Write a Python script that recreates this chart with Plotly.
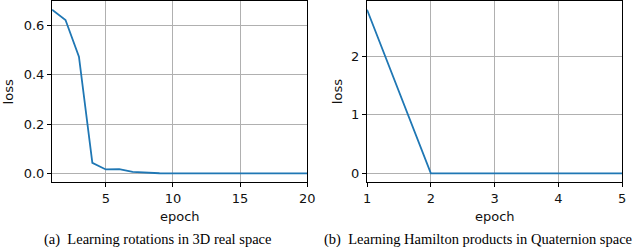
import plotly.graph_objects as go

# Data
epochs_a = list(range(1, 21))
loss_a = [0.665, 0.623, 0.474, 0.043, 0.016, 0.017, 0.006, 0.002, 0.0005, 0.0,
          0.0, 0.0, 0.0, 0.0, 0.0, 0.0, 0.0, 0.0, 0.0, 0.0]
epochs_b = [1, 2, 3, 4, 5]
loss_b = [2.79, 0.0, 0.0, 0.0, 0.0]

ticks_xa = [5, 10, 15, 20]
ticks_ya = [0.0, 0.2, 0.4, 0.6]
ticks_xb = [1, 2, 3, 4, 5]
ticks_yb = [0, 1, 2]

caption_a = "(a)  Learning rotations in 3D real space"
caption_b = "(b)  Learning Hamilton products in Quaternion space"

W, H = 640, 247
line_color = "#1f77b4"
tick_font = dict(family="DejaVu Sans", size=13, color="#111")

fig = go.Figure()
fig.add_trace(go.Scatter(x=epochs_a, y=loss_a, mode="lines",
                         line=dict(color=line_color, width=1.8),
                         xaxis="x", yaxis="y", showlegend=False))
fig.add_trace(go.Scatter(x=epochs_b, y=loss_b, mode="lines",
                         line=dict(color=line_color, width=1.8),
                         xaxis="x2", yaxis="y2", showlegend=False))

ydom = [1 - 182 / H, 1 - 1 / H]
common = dict(showline=True, mirror=True, linecolor="black", linewidth=1.2,
              ticks="outside", ticklen=4, tickwidth=1, tickcolor="black",
              showgrid=True, gridcolor="#b0b0b0", gridwidth=1,
              zeroline=False, tickfont=tick_font)

fig.update_layout(
    width=W, height=H, margin=dict(l=0, r=0, t=0, b=0),
    paper_bgcolor="white", plot_bgcolor="white",
    xaxis=dict(domain=[49 / W, 309 / W], range=[1, 20], tickvals=ticks_xa,
               anchor="y", **common),
    yaxis=dict(domain=ydom, range=[-0.035, 0.70], tickvals=ticks_ya,
               tickformat=".1f", anchor="x", **common),
    xaxis2=dict(domain=[370 / W, 630 / W], range=[1, 5], tickvals=ticks_xb,
                anchor="y2", **common),
    yaxis2=dict(domain=ydom, range=[-0.147, 2.94], tickvals=ticks_yb,
                anchor="x2", **common),
)

ann = []
ann.append(dict(text="loss", x=5 / W, y=1 - 91.5 / H, xref="paper", yref="paper",
                textangle=-90, showarrow=False, font=tick_font,
                xanchor="center", yanchor="middle"))
ann.append(dict(text="loss", x=340 / W, y=1 - 91.5 / H, xref="paper", yref="paper",
                textangle=-90, showarrow=False, font=tick_font,
                xanchor="center", yanchor="middle"))
ann.append(dict(text="epoch", x=179 / W, y=1 - 216 / H, xref="paper", yref="paper",
                showarrow=False, font=tick_font, xanchor="center", yanchor="middle"))
ann.append(dict(text="epoch", x=500 / W, y=1 - 216 / H, xref="paper", yref="paper",
                showarrow=False, font=tick_font, xanchor="center", yanchor="middle"))
cap_font = dict(family="Liberation Serif", size=14.5, color="black")
ann.append(dict(text=caption_a, x=156 / W, y=1 - 239 / H, xref="paper", yref="paper",
                showarrow=False, font=cap_font, xanchor="center", yanchor="middle"))
ann.append(dict(text=caption_b, x=483 / W, y=1 - 239 / H, xref="paper", yref="paper",
                showarrow=False, font=cap_font, xanchor="center", yanchor="middle"))
fig.update_layout(annotations=ann)

fig.write_html("out.html", config={"displayModeBar": False},
               post_script="document.body.style.margin='0';document.body.style.padding='0';document.body.style.overflow='hidden';")
